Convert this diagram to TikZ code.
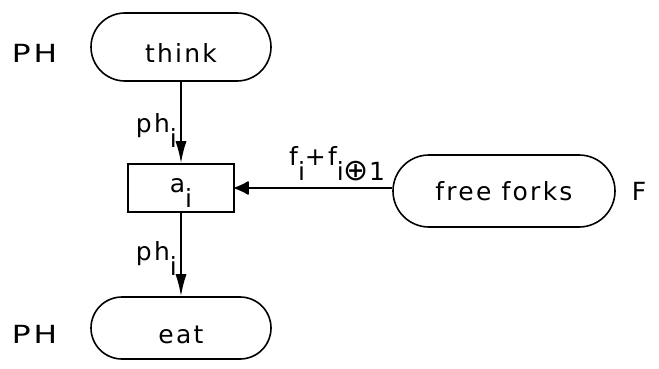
\documentclass[tikz,border=0pt]{standalone}
\usepackage{fontspec}
\setmainfont{DejaVu Sans}[LetterSpace=9]
\usepackage{tikz}
\usetikzlibrary{arrows.meta,positioning}

\newcommand{\subtxt}[1]{\raisebox{-0.6em}{#1}}

\begin{document}
\begin{tikzpicture}[x=1pt, y=1pt, font=\fontsize{25}{30}\selectfont, line width=1.6pt,
    place/.style={draw, rounded corners=34pt, minimum width=180pt, minimum height=68pt},
    low/.style={text height=30pt, text depth=0pt},
    trans/.style={draw, minimum width=106pt, minimum height=48pt, text height=8pt, text depth=0pt},
    arc/.style={-{Latex[length=22pt,width=11pt]}},
    inarc/.style={-{Latex[round,length=16pt,width=15pt]}}]
  \useasboundingbox (0,0) rectangle (659,368);
  \node[place, low] (think) at (181,321) {think};
  \node[trans] (ai) at (181,180) {a\subtxt{i}};
  \node[place, low, minimum height=62pt, rounded corners=31pt] (eat) at (181,40) {eat};
  \node[place, minimum width=222pt, minimum height=72pt, rounded corners=36pt] (forks) at (504,177) {free forks};
  % net labels
  \node[low, left=28pt of think, xscale=1.25] (phthink) {PH};
  \node[low, left=28pt of eat, xscale=1.25] (pheat) {PH};
  \node[right=12pt of forks] (fforks) {F};
  % arcs
  \draw[arc] (think) -- node[left, pos=0.6] {ph\subtxt{i}} (ai);
  \draw[arc] (ai) -- node[left, pos=0.55] {ph\subtxt{i}} (eat);
  \draw[inarc] (forks.west |- ai.east) -- node[above, pos=0.35, yshift=3pt]
    {f\subtxt{i}+f\subtxt{i{\fontsize{30}{30}\selectfont ⊕}1}} (ai.east);
\end{tikzpicture}
\end{document}
